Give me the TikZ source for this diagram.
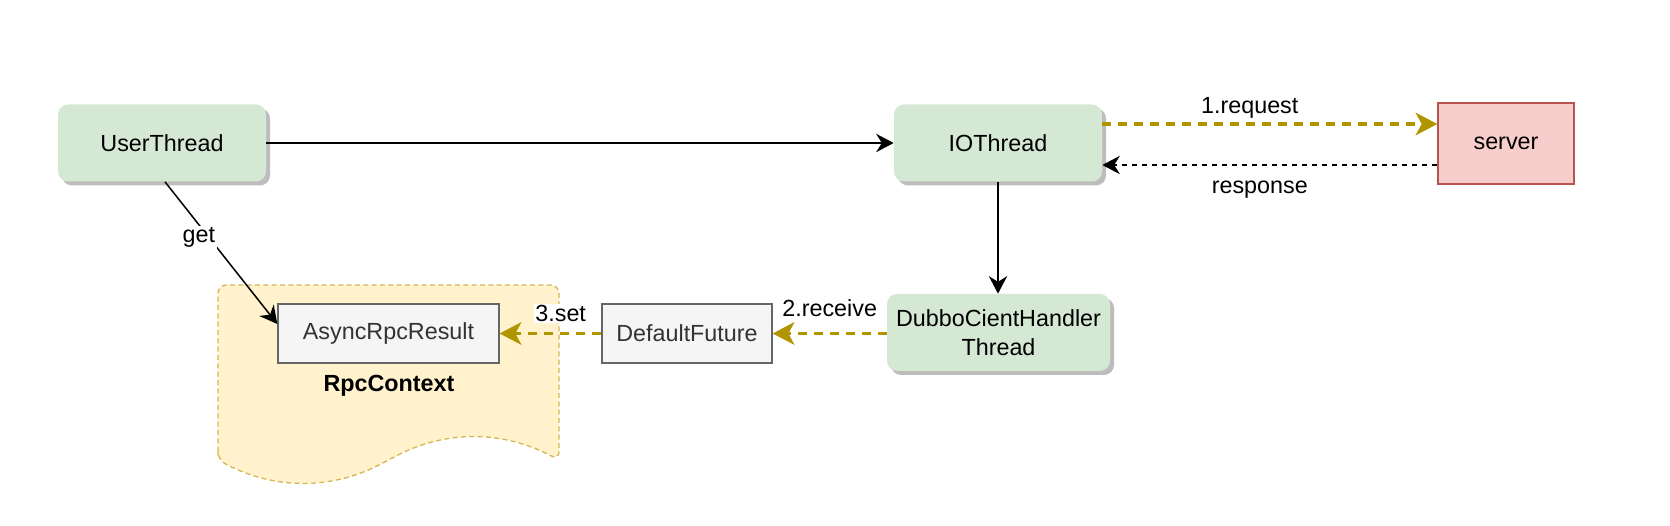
\documentclass[tikz,border=0pt]{standalone}
\usepackage{fontspec}
\setmainfont{Liberation Sans}
\usetikzlibrary{arrows.meta,shadows,calc}
\definecolor{greenfill}{HTML}{D5E8D4}
\definecolor{redfill}{HTML}{F8CECC}
\definecolor{redline}{HTML}{B85450}
\definecolor{grayfill}{HTML}{F5F5F5}
\definecolor{grayline}{HTML}{666666}
\definecolor{graytext}{HTML}{333333}
\definecolor{docfill}{HTML}{FFF2CC}
\definecolor{docline}{HTML}{D6B656}
\definecolor{gold}{HTML}{B09500}
\definecolor{shadowgray}{HTML}{BDBDBD}
\tikzset{
  basefont/.style={font=\fontsize{14}{17}\selectfont},
  thread/.style={rectangle, rounded corners=6pt, fill=greenfill, basefont, align=center, inner sep=0pt,
    minimum width=124.8pt, minimum height=46.2pt,
    drop shadow={shadow xshift=2.4pt, shadow yshift=-2.4pt, fill=shadowgray, opacity=1}},
  graybox/.style={rectangle, draw=grayline, line width=0.8pt, fill=grayfill, text=graytext, basefont, inner sep=0pt,
    minimum height=35.4pt},
  serverbox/.style={rectangle, draw=redline, line width=0.8pt, fill=redfill, basefont, inner sep=0pt,
    minimum width=81.6pt, minimum height=48.6pt},
  blackarrow/.style={draw=black, line width=0.9pt, -{Stealth[length=10.5pt,width=11pt,inset=3.4pt]}},
  resparrow/.style={blackarrow, dash pattern=on 3.2pt off 2.8pt},
  goldarrow/.style={draw=gold, line width=2pt, dash pattern=on 5.4pt off 4.2pt,
    -{Stealth[length=13pt,width=13.5pt,inset=3.6pt,fill=gold]}},
  lbl/.style={basefont, fill=white, inner sep=1pt},
  docshape/.style={draw=docline, fill=docfill, line width=0.8pt, dash pattern=on 3pt off 2pt}
}
\begin{document}
\begin{tikzpicture}[x=0.6pt,y=-0.6pt]
\useasboundingbox (0,0) rectangle (1670,526);
% RpcContext document shape
\path[docshape, rounded corners=5pt] (218,460) -- (218,285) -- (559,285) -- (559,460)
  .. controls (502,430) and (445.5,430) .. (388.5,460)
  .. controls (331.5,490) and (275,490) .. (218,460) -- cycle;
\node[font=\bfseries\fontsize{14}{17}\selectfont] (ctx) at (389,386) {RpcContext};

% nodes
\node[thread] (user) at (162,143) {UserThread};
\node[thread] (io) at (998,143) {IOThread};
\node[serverbox] (server) at (1506,143.5) {server};
\node[thread, minimum width=133.8pt] (dubbo) at (998.5,332.5) {DubboCientHandler\\Thread};
\node[graybox, minimum width=102pt] (df) at (687,333.5) {DefaultFuture};
\node[graybox, minimum width=132.6pt] (arr) at (388.5,333.5) {AsyncRpcResult};

% connectors
\draw[blackarrow] (user) -- (io);
\draw[goldarrow] ([yshift=11.4pt]io.east) -- ([yshift=11.4pt]io.east -| server.west)
  node[basefont, pos=0.44, yshift=9.6pt] {1.request};
\draw[resparrow] ([yshift=-12.9pt]server.west) -- ([yshift=-12.9pt]server.west -| io.east)
  node[basefont, pos=0.53, yshift=-15pt] {response};
\draw[blackarrow] (io.south) -- (io.south |- dubbo.north);
\draw[goldarrow] (dubbo.west |- df.east) -- (df.east)
  node[lbl, midway, yshift=15pt] {2.receive};
\draw[goldarrow] (df.west) -- (arr.east)
  node[lbl, pos=0.4, yshift=12pt] {3.set};
\draw[blackarrow] ([xshift=1.8pt]user.south) -- ([yshift=5.7pt]arr.west)
  node[lbl, pos=0.39, xshift=-6pt] {get};
\end{tikzpicture}
\end{document}
